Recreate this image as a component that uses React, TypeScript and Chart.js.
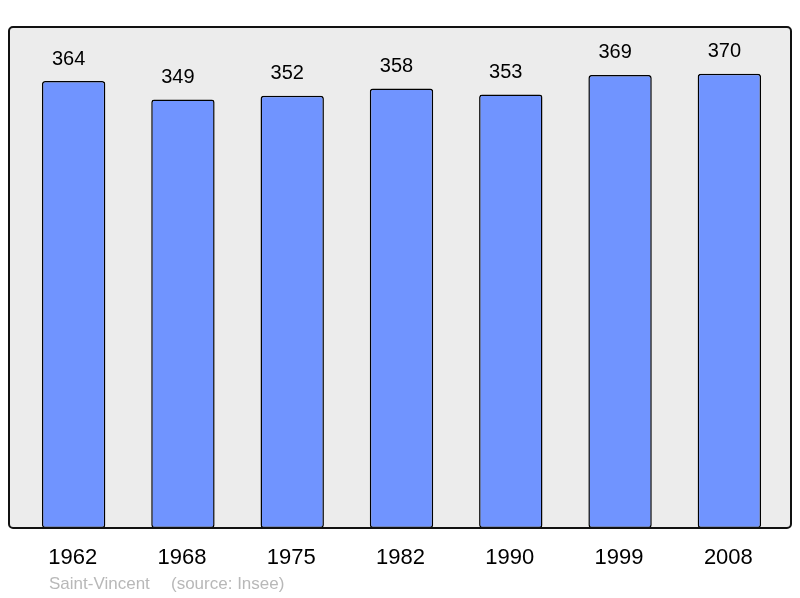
import React, { useEffect, useRef } from "react";
import { Chart, registerables } from "chart.js";

Chart.register(...registerables);

const years = ["1962", "1968", "1975", "1982", "1990", "1999", "2008"];
const population = [364, 349, 352, 358, 353, 369, 370];
const footerCommune = "Saint-Vincent";
const footerSource = "(source: Insee)";

const BOX = { left: 9, top: 27, right: 791, bottom: 528 };
const FONT = "'Liberation Sans', Arial, sans-serif";

const decorPlugin = {
  id: "decor",
  beforeDraw(chart: any) {
    const ctx = chart.ctx;
    ctx.save();
    ctx.fillStyle = "#ffffff";
    ctx.fillRect(0, 0, chart.width, chart.height);
    ctx.beginPath();
    ctx.roundRect(BOX.left, BOX.top, BOX.right - BOX.left, BOX.bottom - BOX.top, 4);
    ctx.fillStyle = "#ececec";
    ctx.fill();
    ctx.restore();
  },
  afterDatasetsDraw(chart: any) {
    const ctx = chart.ctx;
    ctx.save();
    ctx.beginPath();
    ctx.roundRect(BOX.left, BOX.top, BOX.right - BOX.left, BOX.bottom - BOX.top, 4);
    ctx.lineWidth = 2;
    ctx.strokeStyle = "#111111";
    ctx.stroke();

    const meta = chart.getDatasetMeta(0);
    const xScale = chart.scales.x;
    ctx.fillStyle = "#000000";
    ctx.textAlign = "center";
    ctx.textBaseline = "middle";
    ctx.font = `20px ${FONT}`;
    meta.data.forEach((bar: any, i: number) => {
      ctx.fillText(String(population[i]), bar.x - 5, bar.y - 22);
    });
    ctx.font = `22px ${FONT}`;
    years.forEach((y, i) => {
      ctx.fillText(y, xScale.getPixelForValue(i) - 1, 558);
    });
    ctx.fillStyle = "#b8b8b8";
    ctx.font = `17px ${FONT}`;
    ctx.textAlign = "left";
    ctx.fillText(footerCommune, 49, 584);
    ctx.fillText(footerSource, 171, 584);
    ctx.restore();
  },
};

export default function App() {
  const ref = useRef<HTMLCanvasElement | null>(null);
  useEffect(() => {
    if (!ref.current) return;
    const chart = new Chart(ref.current, {
      type: "bar",
      data: {
        labels: years,
        datasets: [
          {
            data: population,
            backgroundColor: "#7094ff",
            borderColor: "#000000",
            borderWidth: 1.5,
            borderRadius: 3,
            borderSkipped: false,
            categoryPercentage: 1,
            barPercentage: 0.58,
          },
        ],
      },
      options: {
        animation: false,
        responsive: false,
        devicePixelRatio: 1,
        layout: { padding: { left: 19, right: 16, top: 27, bottom: 70 } },
        plugins: { legend: { display: false }, tooltip: { enabled: false } },
        scales: {
          x: { display: false, offset: true },
          y: { display: false, min: 0, max: 408 },
        },
      },
      plugins: [decorPlugin],
    });
    return () => chart.destroy();
  }, []);
  return (
    <div style={{ position: "fixed", left: 0, top: 0, width: 800, height: 598 }}>
      <canvas ref={ref} width={800} height={598} style={{ width: 800, height: 598 }} />
    </div>
  );
}
